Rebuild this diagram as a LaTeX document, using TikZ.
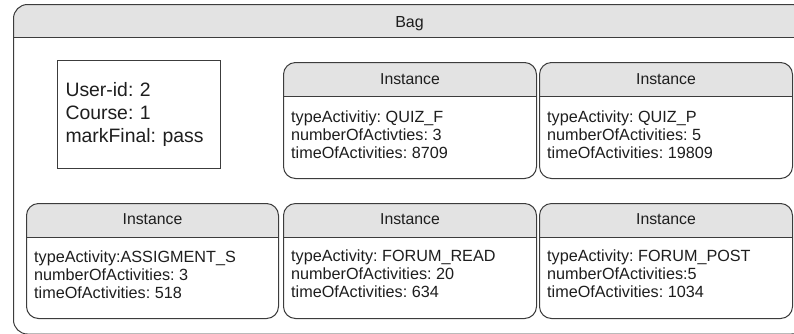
\documentclass[tikz,border=0pt]{standalone}
\usepackage{fontspec}
\setmainfont{Liberation Sans}
\usepackage{tikz}
\definecolor{linegray}{HTML}{3C3C3C}
\definecolor{hdrgray}{HTML}{E3E3E3}
\definecolor{txtgray}{HTML}{1E1E1E}
\frenchspacing

\begin{document}
\begin{tikzpicture}[x=1pt,y=-1pt,
	box/.style={draw=linegray,line width=1pt,fill=white,rounded corners=12pt,inner sep=0pt,anchor=north west,
		path picture={
			\fill[hdrgray,sharp corners] (path picture bounding box.north west) rectangle ([yshift=-#1]path picture bounding box.north east);
			\draw[linegray,line width=1pt,sharp corners] ([yshift=-#1]path picture bounding box.north west) -- ([yshift=-#1]path picture bounding box.north east);}},
	box/.default=34pt,
	inst/.style={box,minimum width=253pt,minimum height=116pt},
	title/.style={text=txtgray,font=\fontsize{15.8}{18}\selectfont,inner sep=0pt},
	attrs/.style={text=txtgray,font=\fontsize{16.2}{18}\selectfont,align=left,anchor=north west,inner sep=0pt}
	]
		\useasboundingbox (0,0) rectangle (794,333);
		\clip (0,0) rectangle (794,333);

		\node[box=33pt,minimum width=792pt,minimum height=329.5pt,rounded corners=14pt] (bag) at (13,4) {};
		\path (bag.north) ++(0,23) node[title,anchor=base,font=\fontsize{16}{18}\selectfont] (bagname) {Bag};

		\node[draw=linegray,line width=1pt,fill=white,anchor=north west,minimum width=163pt,minimum height=108pt,
			text width=147pt,inner xsep=8pt,inner ysep=0pt,align=left,text=txtgray,
			font=\fontsize{19.4}{23}\selectfont] (user) at (57,60) {User-id: 2\\Course: 1\\markFinal: pass};

		\node[inst] (quizf) at (283,62) {};
		\node[title] (quizfhead) at ([yshift=-17pt]quizf.north) {Instance};
		\node[attrs] (quizftxt) at ([xshift=8pt,yshift=-49pt]quizf.north west) {typeActivitiy: QUIZ\_F\\numberOfActivties: 3\\timeOfActivities: 8709};

		\node[inst] (quizp) at (539,62) {};
		\node[title] (quizphead) at ([yshift=-17pt]quizp.north) {Instance};
		\node[attrs] (quizptxt) at ([xshift=8pt,yshift=-49pt]quizp.north west) {typeActivity: QUIZ\_P\\numberOfActivities: 5\\timeOfActivities: 19809};

		\node[inst=33pt,minimum width=252pt,minimum height=115pt] (assign) at (26,203) {};
		\node[title] (assignhead) at ([yshift=-16.5pt]assign.north) {Instance};
		\node[attrs] (assigntxt) at ([xshift=8pt,yshift=-48pt]assign.north west) {typeActivity:ASSIGMENT\_S\\numberOfActivities: 3\\timeOfActivities: 518};

		\node[inst=33pt,minimum height=115pt] (fread) at (283,203) {};
		\node[title] (freadhead) at ([yshift=-16.5pt]fread.north) {Instance};
		\node[attrs] (freadtxt) at ([xshift=8pt,yshift=-47pt]fread.north west) {typeActivity: FORUM\_READ\\numberOfActivities: 20\\timeOfActivities: 634};

		\node[inst=33pt,minimum height=115pt] (fpost) at (539,203) {};
		\node[title] (fposthead) at ([yshift=-16.5pt]fpost.north) {Instance};
		\node[attrs] (fposttxt) at ([xshift=8pt,yshift=-47pt]fpost.north west) {typeActivity: FORUM\_POST\\numberOfActivities:5\\timeOfActivities: 1034};

	\end{tikzpicture}
\end{document}
